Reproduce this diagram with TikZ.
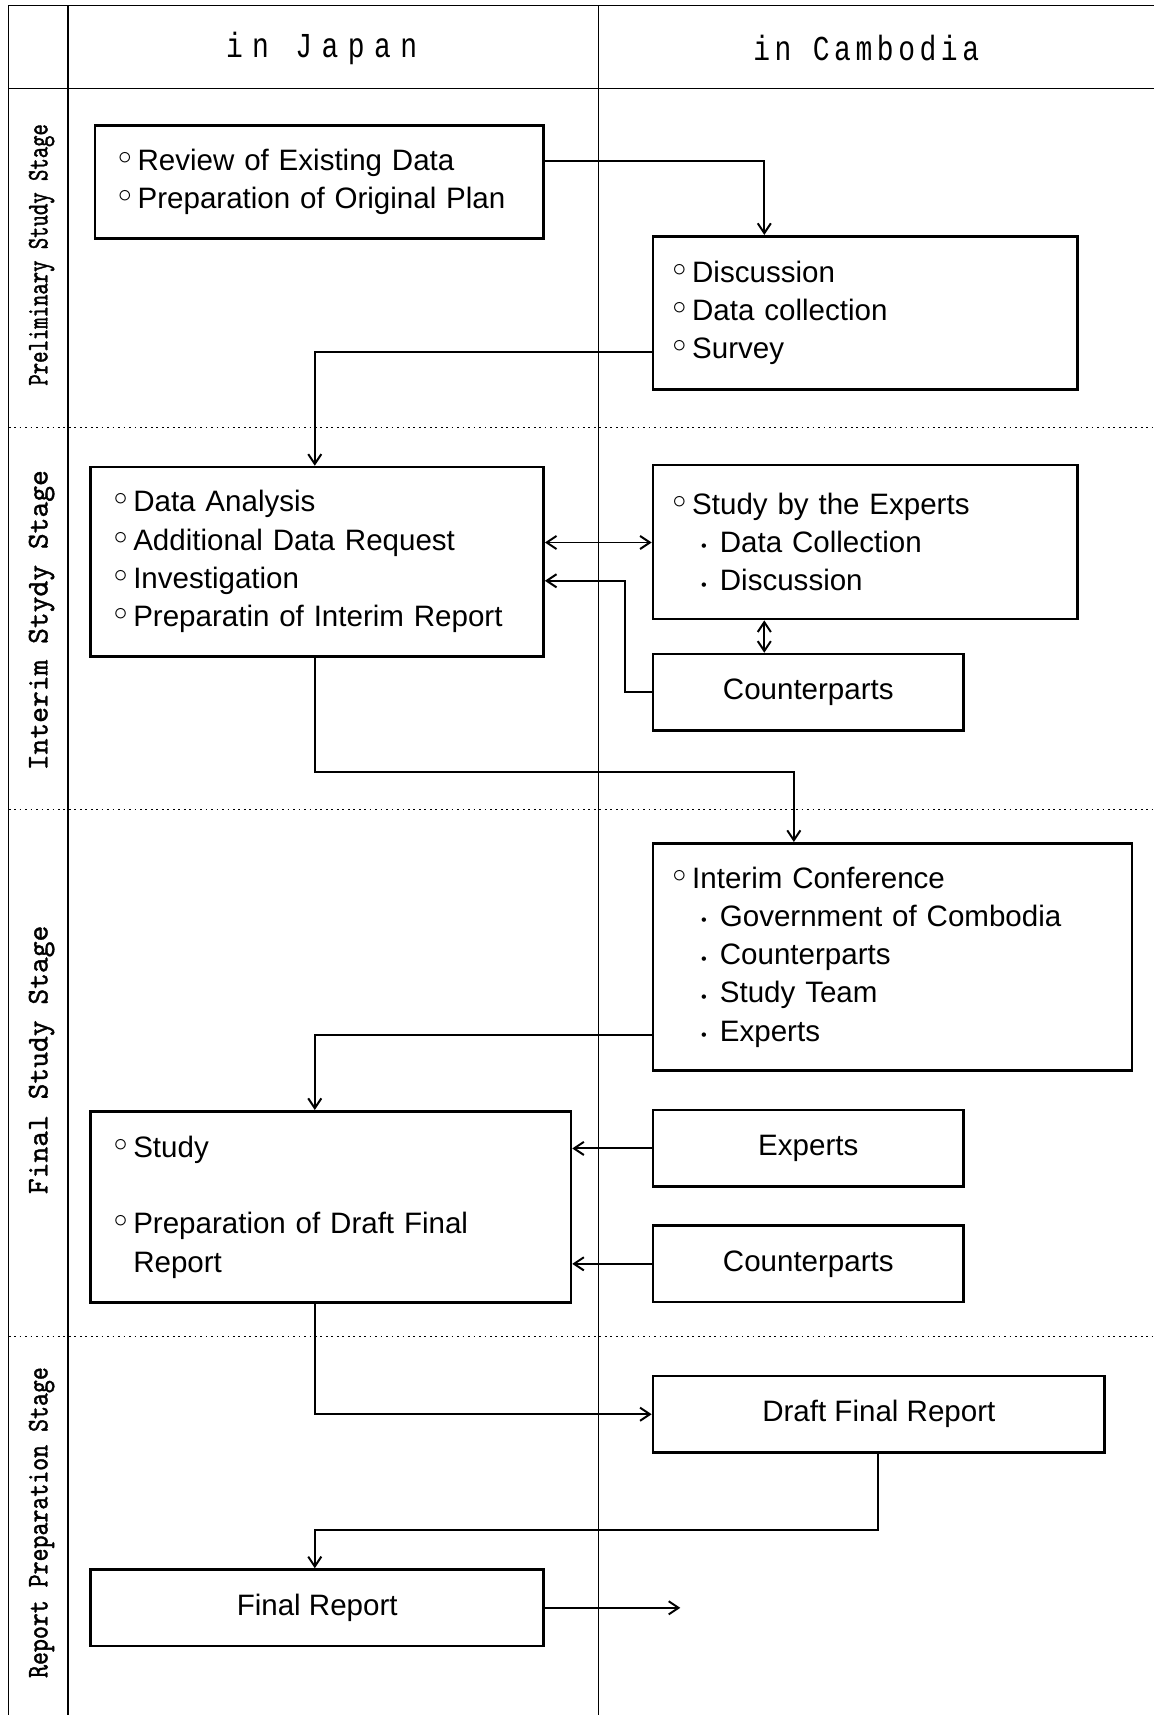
\documentclass[tikz,border=0pt]{standalone}
\usepackage{fontspec}
\usepackage{graphicx}
\setmainfont{Liberation Sans}
\newfontfamily\headfont[FakeStretch=0.8]{Liberation Mono}
\newfontfamily\stagefont[Extension=.otf, FakeBold=1.2]{lmmono10-regular}
\usetikzlibrary{arrows.meta}
\newcommand{\bodyfont}{\fontsize{27}{35}\selectfont}
\newcommand{\obul}{\raisebox{0.2em}{$\circ$}\hspace{0.2em}}
\newcommand{\sbul}{\hspace*{26pt}\raisebox{0.02em}{\scalebox{0.55}{\textbullet}}\hspace{12pt}}
\tikzstyle{listbox}=[rectangle, draw, line width=2.4pt, align=left, inner ysep=0pt, font=\bodyfont]
\tikzstyle{namebox}=[rectangle, draw, line width=2.4pt, align=center, inner sep=0pt, minimum width=284pt, minimum height=70pt, font=\bodyfont]
\tikzstyle{flow}=[line width=1.8pt, -{Straight Barb[length=9pt,width=12pt]}]
\tikzstyle{twoway}=[line width=1.8pt, {Straight Barb[length=9pt,width=12pt]}-{Straight Barb[length=9pt,width=12pt]}]
\tikzstyle{laneline}=[line width=1.3pt]
\tikzstyle{stageline}=[line width=1.3pt, dash pattern=on 1.6pt off 3.4pt]
\tikzstyle{stagelabel}=[rotate=90, inner sep=0pt]

\begin{document}
\begin{tikzpicture}[x=1pt, y=-1pt]
    \useasboundingbox (0,0) rectangle (1055,1568);
    % lanes and stages
    \draw[laneline] (8,5) -- (1055,5) (8,81) -- (1055,81);
    \draw[laneline] (8,5) -- (8,1568) (62,5) -- (62,1568) (547,5) -- (547,1568);
    \draw[stageline] (8,391) -- (1055,391) (8,740) -- (1055,740) (8,1222) -- (1055,1222);
    \node[font={\headfont\fontsize{32}{32}\selectfont\addfontfeatures{LetterSpace=27}}] (japan) at (294,44) {in Japan};
    \node[font={\headfont\fontsize{32}{32}\selectfont\addfontfeatures{LetterSpace=13}}] (cambodia) at (792,44) {in Cambodia};
    \node[stagelabel, font={\stagefont\fontsize{27.5}{27.5}\selectfont\addfontfeatures{FakeStretch=0.72}}] (prelim) at (38,233) {Preliminary Study Stage};
    \node[stagelabel, font={\stagefont\fontsize{27.5}{27.5}\selectfont}] (interim) at (38,567) {Interim Stydy Stage};
    \node[stagelabel, font={\stagefont\fontsize{27.5}{27.5}\selectfont}] (final) at (38,969) {Final Study Stage};
    \node[stagelabel, font={\stagefont\fontsize{27.5}{27.5}\selectfont\addfontfeatures{FakeStretch=0.82}}] (report) at (38,1392) {Report Preparation Stage};
    % boxes
    \node[listbox, minimum width=410pt, minimum height=103pt, inner xsep=21pt, text width=368pt] (review) at (292,166.5)
        {\obul Review of Existing Data\\ \obul Preparation of Original Plan};
    \node[listbox, minimum width=388pt, minimum height=140pt, inner xsep=18pt, text width=352pt] (discuss) at (791,286)
        {\obul Discussion\\ \obul Data collection\\ \obul Survey};
    \node[listbox, minimum width=414pt, minimum height=173pt, inner xsep=21pt, text width=372pt] (analysis) at (290,513.5)
        {\obul Data Analysis\\ \obul Additional Data Request\\ \obul Investigation\\ \obul Preparatin of Interim Report};
    \node[listbox, minimum width=388pt, minimum height=141pt, inner xsep=18pt, text width=352pt] (expstudy) at (791,495.5)
        {\obul Study by the Experts\\ \sbul Data Collection\\ \sbul Discussion};
    \node[namebox] (cpartA) at (739,633) {Counterparts};
    \node[listbox, minimum width=438pt, minimum height=208pt, inner xsep=18pt, text width=402pt] (conf) at (816,875)
        {\obul Interim Conference\\ \sbul Government of Combodia\\ \sbul Counterparts\\ \sbul Study Team\\ \sbul Experts};
    \node[listbox, minimum width=439pt, minimum height=175pt, inner xsep=21pt, text width=397pt] (study) at (302.5,1103.5)
        {\obul Study\\[35pt] \obul Preparation of Draft Final\\ \phantom{\obul}Report};
    \node[namebox] (experts) at (739,1050) {Experts};
    \node[namebox] (cpartB) at (739,1155.5) {Counterparts};
    \node[namebox, minimum width=413pt] (draft) at (803.5,1293) {Draft Final Report};
    \node[namebox, minimum width=414pt] (finalrep) at (290,1470) {Final Report};
    \coordinate (handover) at (622,1470);
    % flows
    \draw[flow] ([yshift=19.5pt]review.east) -| ([xshift=103pt]discuss.north west);
    \draw[flow] ([yshift=-36pt]discuss.west) -| ([xshift=206pt]analysis.north west);
    \draw[twoway] ([yshift=17.5pt]analysis.east) -- ([yshift=17.5pt]analysis.east -| expstudy.west);
    \draw[flow] (cpartA.west) -- ++(-24pt,0pt) |- ([yshift=-17.5pt]analysis.east);
    \draw[twoway] ([xshift=103pt]expstudy.south west) -- ([xshift=103pt]cpartA.north west);
    \draw[flow] ([xshift=206pt]analysis.south west) -- ++(0pt,-105pt) -| ([xshift=130pt]conf.north west);
    \draw[flow] ([yshift=-71pt]conf.west) -| ([xshift=206pt]study.north west);
    \draw[flow] (experts.west) -- (experts.west -| study.east);
    \draw[flow] (cpartB.west) -- (cpartB.west -| study.east);
    \draw[flow] ([xshift=206pt]study.south west) |- (draft.west);
    \draw[flow] ([xshift=207pt]draft.south west) -- ++(0pt,-70pt) -| ([xshift=206pt]finalrep.north west);
    \draw[flow] (finalrep.east) -- (handover);
\end{tikzpicture}
\end{document}
